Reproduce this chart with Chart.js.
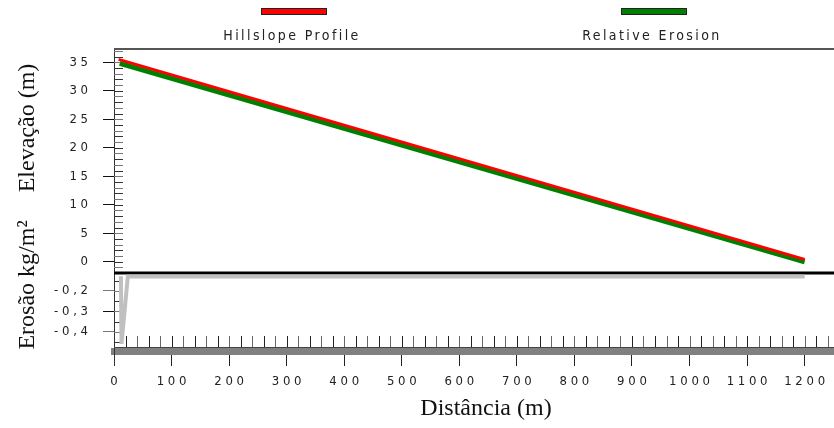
<!DOCTYPE html>
<html lang="pt">
<head>
    <meta charset="UTF-8">
    <title>Perfil da encosta e erosão</title>
    <script src="https://cdn.jsdelivr.net/npm/chart.js"></script>
    <style>
        html, body { margin: 0; padding: 0; background: #fff; }
        .chart-container { width: 834px; height: 428px; }
    </style>
</head>
<body>
    <div class="chart-container">
        <canvas id="perfilChart"></canvas>
    </div>

    <script>
        // Perfil da encosta (m)
        const distPerfil = [8, 1200];
        const elevPerfil = [35.5, 0.4];
        // Perfil com erosão relativa (m)
        const distRelativa = [10, 1200];
        const elevRelativa = [34.8, -0.05];
        // Erosão (kg/m²)
        const distErosao = [12, 13, 24, 1200];
        const valErosao = [-0.127, -0.46, -0.129, -0.129];

        // Marcas dos eixos
        const ticksDist = [0, 100, 200, 300, 400, 500, 600, 700, 800, 900, 1000, 1100, 1200];
        const ticksElev = [0, 5, 10, 15, 20, 25, 30, 35];
        const ticksErosao = [-0.2, -0.3, -0.4];
        const nomesSeries = ['Hillslope Profile', 'Relative Erosion'];

        const fonteNarrow = "'Liberation Sans Narrow', 'Arial Narrow', 'DejaVu Sans Condensed', sans-serif";
        const fonteSerif = "'Liberation Serif', 'Times New Roman', serif";
        const espacar = t => t.split('').join(' ');
        const pontos = (xs, ys) => xs.map((x, i) => ({ x: x, y: ys[i] }));

        // Traços menores, linhas de divisão, legenda e títulos
        const decoracao = {
            id: 'decoracao',
            beforeDatasetsDraw(chart) {
                const ctx = chart.ctx;
                const a = chart.chartArea;
                const sx = chart.scales.x, se = chart.scales.yElev, sr = chart.scales.yEro;
                ctx.save();

                // borda superior
                ctx.strokeStyle = '#555';
                ctx.lineWidth = 2;
                ctx.beginPath();
                ctx.moveTo(a.left, a.top);
                ctx.lineTo(a.right, a.top);
                ctx.stroke();

                // linha entre os dois painéis
                ctx.strokeStyle = '#000';
                ctx.lineWidth = 3;
                ctx.beginPath();
                ctx.moveTo(a.left, sr.top + 1);
                ctx.lineTo(a.right, sr.top + 1);
                ctx.stroke();

                // traços menores do eixo das elevações
                ctx.lineWidth = 1;
                for (let v = -1; v <= 37; v++) {
                    const py = Math.round(se.getPixelForValue(v)) + 0.5;
                    ctx.strokeStyle = v % 2 ? '#777' : '#333';
                    ctx.beginPath();
                    ctx.moveTo(a.left, py);
                    ctx.lineTo(a.left + 9, py);
                    ctx.stroke();
                }
                // traços menores do eixo da erosão
                for (let k = 3; k <= 9; k++) {
                    const py = Math.round(sr.getPixelForValue(-k * 0.05)) + 0.5;
                    ctx.strokeStyle = k % 2 ? '#333' : '#777';
                    ctx.beginPath();
                    ctx.moveTo(a.left, py);
                    ctx.lineTo(a.left + 9, py);
                    ctx.stroke();
                }
                // traços menores do eixo das distâncias
                for (let d = 20; d <= 1240; d += 20) {
                    const px = Math.round(sx.getPixelForValue(d)) + 0.5;
                    ctx.strokeStyle = (d / 20) % 2 ? '#222' : '#666';
                    ctx.beginPath();
                    ctx.moveTo(px, a.bottom - 15);
                    ctx.lineTo(px, a.bottom - 4);
                    ctx.stroke();
                }
                // linha escura sobre a faixa do eixo x
                ctx.strokeStyle = '#444';
                ctx.beginPath();
                ctx.moveTo(a.left, a.bottom - 3.5);
                ctx.lineTo(a.right, a.bottom - 3.5);
                ctx.stroke();
                // prolongamento do eixo vertical
                ctx.strokeStyle = '#333';
                ctx.beginPath();
                ctx.moveTo(a.left + 0.5, a.bottom);
                ctx.lineTo(a.left + 0.5, a.bottom + 15);
                ctx.stroke();
                ctx.restore();
            },
            afterDraw(chart) {
                const ctx = chart.ctx;
                const a = chart.chartArea;
                ctx.save();

                // legenda: barra em cima, nome em baixo
                ctx.font = '14px ' + fonteNarrow;
                ctx.textAlign = 'center';
                ctx.textBaseline = 'middle';
                nomesSeries.forEach((nome, i) => {
                    const ds = chart.data.datasets[i];
                    const cx = a.left + a.width * (0.25 + 0.5 * i);
                    ctx.fillStyle = ds.borderColor;
                    ctx.fillRect(cx - 32, 9, 64, 5);
                    ctx.strokeStyle = '#222';
                    ctx.lineWidth = 1;
                    ctx.strokeRect(cx - 32.5, 8.5, 65, 6);
                    ctx.fillStyle = '#222';
                    ctx.letterSpacing = '2.4px';
                    ctx.fillText(nome, cx - 2, 36);
                    ctx.letterSpacing = '0px';
                });

                // títulos dos eixos
                ctx.fillStyle = '#111';
                ctx.font = '24px ' + fonteSerif;
                ctx.fillText('Distância (m)', 486, 409);
                ctx.save();
                ctx.translate(28, 128);
                ctx.rotate(-Math.PI / 2);
                ctx.fillText('Elevação (m)', 0, 0);
                ctx.restore();
                ctx.save();
                ctx.translate(28, 285);
                ctx.rotate(-Math.PI / 2);
                ctx.fillText('Erosão kg/m²', 0, 0);
                ctx.restore();

                ctx.restore();
            }
        };

        const ctxPerfil = document.getElementById('perfilChart').getContext('2d');
        new Chart(ctxPerfil, {
            type: 'line',
            data: {
                datasets: [{
                    label: nomesSeries[0],
                    data: pontos(distPerfil, elevPerfil),
                    borderColor: '#ff0000',
                    borderWidth: 3,
                    pointRadius: 0,
                    yAxisID: 'yElev',
                    order: 0
                }, {
                    label: nomesSeries[1],
                    data: pontos(distRelativa, elevRelativa),
                    borderColor: '#008000',
                    borderWidth: 5,
                    pointRadius: 0,
                    yAxisID: 'yElev',
                    order: 1
                }, {
                    label: 'Erosão',
                    data: pontos(distErosao, valErosao),
                    borderColor: '#c0c0c0',
                    borderWidth: 4,
                    pointRadius: 0,
                    yAxisID: 'yEro',
                    order: 2
                }]
            },
            options: {
                responsive: true,
                maintainAspectRatio: false,
                animation: false,
                layout: { padding: { top: 49, left: 0, right: 0, bottom: 0 } },
                plugins: {
                    legend: { display: false },
                    tooltip: { enabled: false }
                },
                scales: {
                    x: {
                        type: 'linear',
                        min: 0,
                        max: 1251,
                        afterBuildTicks: s => { s.ticks = ticksDist.map(v => ({ value: v })); },
                        afterFit: s => { s.height = 77; },
                        ticks: {
                            autoSkip: false,
                            maxRotation: 0,
                            padding: 8,
                            color: '#222',
                            font: { family: fonteNarrow, size: 13 },
                            callback: v => espacar(String(v))
                        },
                        grid: { drawOnChartArea: false, tickLength: 15, color: '#222' },
                        border: { color: '#808080', width: 7 }
                    },
                    yEro: {
                        type: 'linear',
                        position: 'left',
                        stack: 'esquerda',
                        stackWeight: 79,
                        min: -0.495,
                        max: -0.1066,
                        afterBuildTicks: s => { s.ticks = ticksErosao.map(v => ({ value: v })); },
                        afterFit: s => { s.width = 114; },
                        ticks: {
                            padding: 15,
                            color: '#222',
                            font: { family: fonteNarrow, size: 13 },
                            callback: v => espacar(v.toFixed(1).replace('.', ','))
                        },
                        grid: {
                            drawOnChartArea: false,
                            tickLength: 11,
                            color: c => c.index === 1 ? '#111' : '#777'
                        },
                        border: { color: '#333', width: 1 }
                    },
                    yElev: {
                        type: 'linear',
                        position: 'left',
                        stack: 'esquerda',
                        stackWeight: 223,
                        min: -1.81,
                        max: 37.33,
                        afterBuildTicks: s => { s.ticks = ticksElev.map(v => ({ value: v })); },
                        afterFit: s => { s.width = 114; },
                        ticks: {
                            padding: 15,
                            color: '#222',
                            font: { family: fonteNarrow, size: 13 },
                            callback: v => espacar(String(v))
                        },
                        grid: { drawOnChartArea: false, tickLength: 11, color: '#111' },
                        border: { color: '#333', width: 1 }
                    }
                }
            },
            plugins: [decoracao]
        });
    </script>
</body>
</html>
